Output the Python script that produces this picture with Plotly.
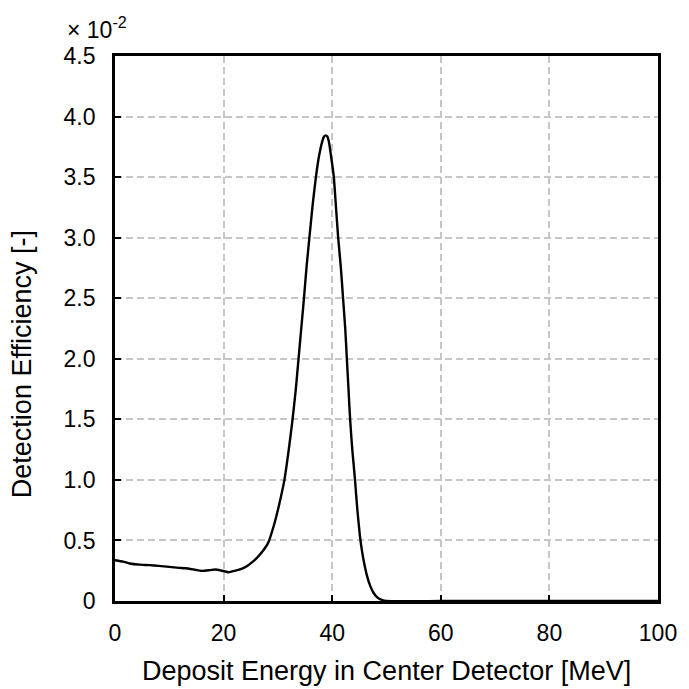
import plotly.graph_objects as go

# Deposit energy [MeV] and detection efficiency (x 10^-2)
energy = [0, 1.5, 2.7, 4.5, 6.4, 8.0, 10.0, 11.8, 13.0, 14.5, 16.0, 17.5, 18.5, 19.5, 20.9,
          22.0, 23.3, 24.2, 25.1, 26.0, 27.0, 28.2, 29.4, 30.3, 31.2, 32.0, 32.7,
          33.3, 33.8, 34.3, 34.8, 35.3, 35.8, 36.4, 37.0, 37.6, 38.2, 38.5, 38.8, 39.1,
          39.4, 39.8, 40.3, 40.7, 41.1, 41.6, 42.0, 42.4, 42.7, 43.0, 43.3, 43.7, 44.2,
          44.6, 45.1, 45.5, 45.9, 46.4, 47.0, 47.6, 48.3, 49.1, 50.0, 60.0, 70.0, 80.0,
          90.0, 100.0]
efficiency = [0.337, 0.325, 0.31, 0.30, 0.296, 0.29, 0.282, 0.274, 0.27, 0.26, 0.249, 0.255,
              0.26, 0.252, 0.238, 0.248, 0.266, 0.285, 0.315, 0.35, 0.40, 0.48, 0.646,
              0.81, 1.0, 1.25, 1.5, 1.75, 2.0, 2.25, 2.5, 2.77, 3.0, 3.27, 3.5, 3.68, 3.80,
              3.835, 3.845, 3.835, 3.79, 3.67, 3.5, 3.25, 3.0, 2.75, 2.5, 2.25, 2.0, 1.75,
              1.5, 1.25, 1.0, 0.77, 0.54, 0.41, 0.31, 0.21, 0.125, 0.068, 0.03, 0.01, 0.0,
              0.0, 0.0, 0.0, 0.0, 0.0]

x_ticks = [0, 20, 40, 60, 80, 100]
y_ticks = [0, 0.5, 1.0, 1.5, 2.0, 2.5, 3.0, 3.5, 4.0, 4.5]
y_labels = ["0", "0.5", "1.0", "1.5", "2.0", "2.5", "3.0", "3.5", "4.0", "4.5"]

font_family = "Liberation Sans, Arial, sans-serif"
tick_font = dict(family=font_family, size=23, color="black")
title_font = dict(family=font_family, size=27, color="black")

fig = go.Figure()
fig.add_trace(go.Scatter(
    x=energy, y=efficiency, mode="lines",
    line=dict(color="black", width=2.4, shape="spline", smoothing=0.5),
    showlegend=False, hoverinfo="skip",
))

axis_common = dict(
    showline=True, linecolor="black", linewidth=2.8, mirror=True,
    ticks="inside", ticklen=6, tickwidth=2, tickcolor="black",
    showgrid=True, gridcolor="#c6c6c6", gridwidth=1.5, griddash="7px,4px",
    zeroline=False, tickfont=tick_font,
)

fig.update_xaxes(range=[0, 100], tickvals=x_ticks, ticklabelstandoff=9, **axis_common)
fig.update_yaxes(range=[0, 4.5], tickvals=y_ticks, ticktext=y_labels,
                 ticklabelstandoff=12, **axis_common)

# Axis titles
fig.add_annotation(
    text="Deposit Energy in Center Detector [MeV]", xref="paper", yref="paper",
    x=0.5, y=-0.128, xanchor="center", yanchor="middle", showarrow=False,
    font=title_font,
)
fig.add_annotation(
    text="Detection Efficiency [-]", xref="paper", yref="paper",
    x=-0.170, y=0.434, xanchor="center", yanchor="middle", textangle=-90,
    showarrow=False, font=title_font,
)

# Exponent note for the y axis
fig.add_annotation(
    text="× 10<sup>-2</sup>", xref="paper", yref="paper", x=0.026, y=1.052,
    xanchor="right", yanchor="middle", showarrow=False,
    font=dict(family=font_family, size=23, color="black"),
)

fig.update_layout(
    width=689, height=689,
    margin=dict(l=115, r=24, t=56, b=88),
    paper_bgcolor="white", plot_bgcolor="white",
    font=dict(family=font_family, color="black"),
)

fig.write_html("out.html")
